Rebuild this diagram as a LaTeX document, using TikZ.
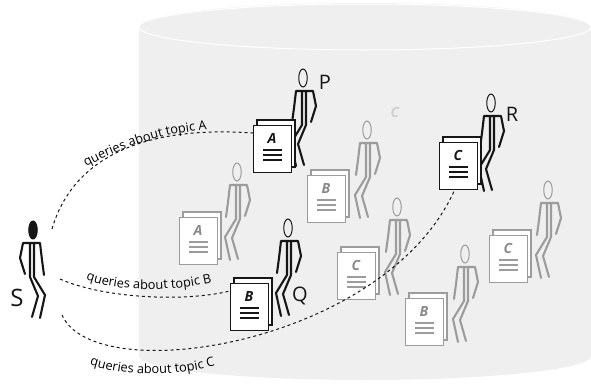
\documentclass[tikz,border=0pt]{standalone}
\usepackage{fontspec}
\setmainfont{Open Sans}
\usetikzlibrary{shapes.geometric,decorations.text,calc}

\definecolor{vault}{HTML}{EFEFEF}
\definecolor{faded}{HTML}{9C9C9C}
\definecolor{fadedtext}{HTML}{8A8A8A}
\definecolor{ghost}{HTML}{CFCFCF}
\definecolor{ink}{HTML}{161616}

\newcommand\routefont{\fontsize{12.8}{14}\selectfont}

% a walking stick figure, head centre at (x,y) in pixel-like units
\newcommand\walker[6][]{%
  \begin{scope}[shift={(#3,-#4)},#1]
    \node[headshape, draw=#5, fill=#6] (#2) at (0,0) {};
    \draw[limb, #5]
      (-7,-13) -- (10,-13)
      (-1,-13) -- (-1,-47)  (3,-13) -- (3,-47)
      (-7,-13) -- (-9,-30) -- (-11,-45)
      (10,-13) -- (13,-28) -- (8,-44)
      (-1,-47) -- (-12,-65) -- (-7,-88)
      (3,-47) -- (-5,-66) -- (1,-87);
  \end{scope}}

% a small stack of two sheets with a topic letter and text lines
\newcommand\paperstack[6]{% name, x, y, letter, outline, letter colour
  \begin{scope}[shift={(#2,-#3)}]
    \draw[sheet, draw=#5] (4,5) rectangle (42,-42);
    \node[sheet, draw=#5, minimum width=38pt, minimum height=47pt,
          inner sep=0pt, anchor=north west] (#1) at (0,0) {};
    \node[topicletter, text=#6] at (19,-13) {#4};
    \foreach \yy in {25,30,35}
      \draw[textline, #5] (10,-\yy) -- (29,-\yy);
  \end{scope}}

\begin{document}
\begin{tikzpicture}[x=1pt,y=1pt,
  headshape/.style={ellipse, minimum width=8.5pt, minimum height=18pt, inner sep=0pt, line width=1pt},
  limb/.style={line width=2.1pt, line cap=round, line join=round},
  sheet/.style={fill=white, line width=1.1pt},
  topicletter/.style={font=\bfseries\itshape\fontsize{14}{14}\selectfont, inner sep=0pt},
  textline/.style={line width=1.1pt},
  query/.style={dashed, dash pattern=on 3pt off 3pt, line width=1pt, ink},
  routelabel/.style={decorate, decoration={text along path, text align=center,
     text={|\routefont|#1}}},
  person/.style={font=\fontsize{20}{20}\selectfont, inner sep=0pt, text=ink}]

\useasboundingbox (0,0) rectangle (591,-383);
\fill[white] (0,0) rectangle (591,-383);

% the database cylinder
\fill[vault] (139,-27) -- (139,-356)
  arc[start angle=180, end angle=360, x radius=226, y radius=24]
  -- (591,-27)
  arc[start angle=0, end angle=180, x radius=226, y radius=24] -- cycle;
\draw[white, line width=1pt] (365,-27) ellipse [x radius=226, y radius=23];

% other users inside the collection (faded)
\walker{gwA}{237}{172}{faded}{vault}
\walker{gwB1}{367}{130}{faded}{vault}
\walker{gwC1}{397}{207}{faded}{vault}
\walker{gwB2}{465}{254}{faded}{vault}
\walker{gwC2}{548}{190}{faded}{vault}
\paperstack{gdA}{179}{217}{A}{faded}{fadedtext}
\paperstack{gdB1}{307}{175}{B}{faded}{fadedtext}
\paperstack{gdC1}{337}{252}{C}{faded}{fadedtext}
\paperstack{gdB2}{405}{298}{B}{faded}{fadedtext}
\paperstack{gdC2}{489}{235}{C}{faded}{fadedtext}
\node[topicletter, text=ghost] (ghostC) at (395,-112) {C};

% the searcher S
\walker[xscale=-1]{wS}{33}{230}{ink}{ink}
\node[person, font=\fontsize{24}{24}\selectfont] (labS) at (17,-298) {S};
\coordinate (sA) at (52,-229);
\coordinate (sB) at (60,-279);
\coordinate (sC) at (62,-315);

% the experts P, Q and R
\walker{wP}{303}{78}{ink}{vault}
\walker{wQ}{288}{228}{ink}{vault}
\walker{wR}{491}{103}{ink}{vault}
\paperstack{docA}{253}{125}{A}{ink}{ink}
\paperstack{docB}{230}{283}{B}{ink}{ink}
\paperstack{docC}{439}{142}{C}{ink}{ink}
\node[person] (labP) at (325,-82) {P};
\node[person] (labQ) at (300,-296) {Q};
\node[person] (labR) at (512,-114) {R};

% query routes
\draw[query] (sA) .. controls (72,-160) and (140,-125) .. ($(docA.north west)+(0,-8)$);
\draw[query] (sB) .. controls (100,-297) and (180,-303) .. ($(docB.north west)+(0,-8)$);
\draw[query] (sC) .. controls (95,-390) and (385,-345) .. ($(docC.south)+(-4,0)$);

% route labels set along curved baselines
\path[routelabel={queries about topic A}]
  (80,-170) .. controls (120,-148) and (160,-133) .. (214,-129);
\path[routelabel={queries about topic B}]
  (81,-278) .. controls (115,-292) and (170,-293) .. (217,-281);
\path[routelabel={queries about topic C}]
  (87,-364) .. controls (125,-377) and (175,-377) .. (218,-365);

\end{tikzpicture}
\end{document}
